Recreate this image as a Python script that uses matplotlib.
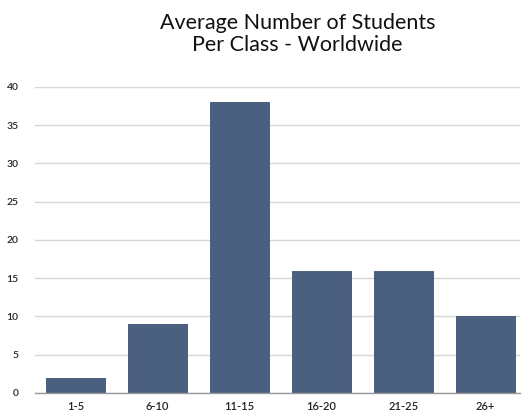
import matplotlib
matplotlib.use("Agg")
import matplotlib.pyplot as plt

categories = ["1-5", "6-10", "11-15", "16-20", "21-25", "26+"]
students = [2, 9, 38, 16, 16, 10]
yticks = [0, 5, 10, 15, 20, 25, 30, 35, 40]

plt.rcParams['font.family'] = ['Lato', 'DejaVu Sans']

fig = plt.figure(figsize=(5.24, 4.16), dpi=100)
ax = fig.add_axes([0.067, 0.0553, 0.925, 0.7357])

x = list(range(len(categories)))
ax.bar(x, students, width=0.72, color="#4b5f80", edgecolor="#3f5272", linewidth=0.6, zorder=3)

ax.set_ylim(0, 40)
ax.set_xlim(-0.49, 5.42)
ax.set_yticks(yticks)
ax.set_yticklabels([str(t) for t in yticks], fontsize=7.5, color="#222222", fontweight="semibold")
ax.set_xticks(x)
ax.set_xticklabels(categories, fontsize=8, color="#222222", fontweight="semibold")
ax.tick_params(axis='both', length=0, pad=6)
ax.tick_params(axis='y', pad=12)

ax.yaxis.grid(True, color="#d6d6d6", linewidth=1.0, zorder=0)
for side in ["top", "right", "left"]:
    ax.spines[side].set_visible(False)
ax.spines["bottom"].set_color("#999999")
ax.spines["bottom"].set_linewidth(1.0)
ax.spines["bottom"].set_zorder(4)

fig.text(0.568, 0.918, "Average Number of Students\nPer Class - Worldwide",
         ha="center", va="center", fontsize=15.5, linespacing=1.1, color="#111111")

fig.savefig("out.png", dpi=100)
